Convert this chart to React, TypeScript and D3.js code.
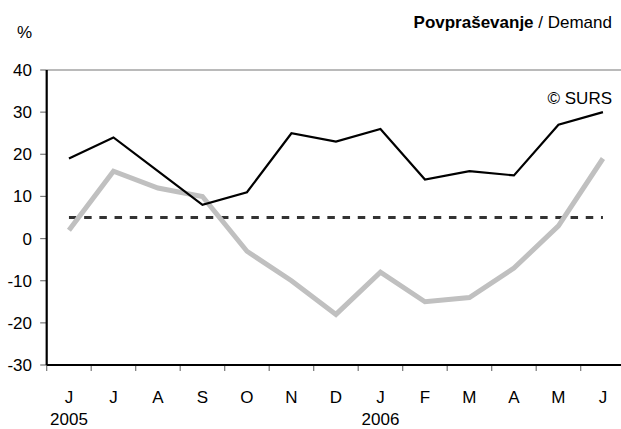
import * as d3 from 'd3';
import { useRef, useEffect } from 'react';

const months = ['J', 'J', 'A', 'S', 'O', 'N', 'D', 'J', 'F', 'M', 'A', 'M', 'J'];
const years = [{ index: 0, label: '2005' }, { index: 7, label: '2006' }];
const demandBlack = [19, 24, 16, 8, 11, 25, 23, 26, 14, 16, 15, 27, 30];
const demandGray = [2, 16, 12, 10, -3, -10, -18, -8, -15, -14, -7, 3, 19];
const referenceLevel = 5;
const yTicks = [-30, -20, -10, 0, 10, 20, 30, 40];

function App() {
    const svgRef = useRef<SVGSVGElement>(null);
    const width = 621;
    const height = 429;

    useEffect(() => {
        const svg = d3.select(svgRef.current);
        svg.selectAll('*').remove();

        const font = '"Liberation Sans", Arial, sans-serif';
        const left = 46.7;
        const top = 70;
        const bottom = 365;

        const xScale = d3.scaleBand<number>()
            .domain(months.map((_, i) => i))
            .range([left, left + 13 * 44.5]);
        const xMid = (i: number) => (xScale(i) as number) + xScale.bandwidth() / 2;

        const yScale = d3.scaleLinear()
            .domain([-30, 40])
            .range([bottom, top]);

        // Top frame line
        svg.append('line')
            .attr('x1', left).attr('x2', width)
            .attr('y1', yScale(40)).attr('y2', yScale(40))
            .attr('stroke', '#777').attr('stroke-width', 1.2);

        // Y ticks and labels
        svg.append('g')
            .selectAll('line')
            .data(yTicks)
            .enter()
            .append('line')
            .attr('x1', left - 6.5).attr('x2', left)
            .attr('y1', d => yScale(d)).attr('y2', d => yScale(d))
            .attr('stroke', '#777').attr('stroke-width', 1.2);

        svg.append('g')
            .selectAll('text')
            .data(yTicks)
            .enter()
            .append('text')
            .attr('x', 32)
            .attr('y', d => yScale(d) + 6)
            .attr('text-anchor', 'end')
            .attr('font-family', font)
            .attr('font-size', 17)
            .attr('fill', '#000')
            .text(d => d);

        // X ticks at category boundaries
        svg.append('g')
            .selectAll('line')
            .data(months.map((_, i) => i))
            .enter()
            .append('line')
            .attr('x1', d => xScale(d) as number).attr('x2', d => xScale(d) as number)
            .attr('y1', bottom).attr('y2', bottom + 6)
            .attr('stroke', '#777').attr('stroke-width', 1.2);

        svg.append('g')
            .selectAll('text')
            .data(months)
            .enter()
            .append('text')
            .attr('x', (_, i) => xMid(i))
            .attr('y', 403)
            .attr('text-anchor', 'middle')
            .attr('font-family', font)
            .attr('font-size', 17)
            .text(d => d);

        svg.append('g')
            .selectAll('text')
            .data(years)
            .enter()
            .append('text')
            .attr('x', d => xMid(d.index))
            .attr('y', 425)
            .attr('text-anchor', 'middle')
            .attr('font-family', font)
            .attr('font-size', 17)
            .text(d => d.label);

        // Axes lines
        svg.append('line')
            .attr('x1', left).attr('x2', width)
            .attr('y1', bottom).attr('y2', bottom)
            .attr('stroke', '#000').attr('stroke-width', 2.2);
        svg.append('line')
            .attr('x1', left).attr('x2', left)
            .attr('y1', top).attr('y2', bottom)
            .attr('stroke', '#000').attr('stroke-width', 2.2);

        // Reference dashed line
        svg.append('line')
            .attr('x1', xMid(0)).attr('x2', xMid(months.length - 1))
            .attr('y1', yScale(referenceLevel)).attr('y2', yScale(referenceLevel))
            .attr('stroke', '#333').attr('stroke-width', 3)
            .attr('stroke-dasharray', '7.5,7.7');

        const line = d3.line<number>()
            .x((_, i) => xMid(i))
            .y(d => yScale(d));

        svg.append('path')
            .datum(demandGray)
            .attr('d', line)
            .attr('fill', 'none')
            .attr('stroke', '#c0c0c0')
            .attr('stroke-width', 5);

        svg.append('path')
            .datum(demandBlack)
            .attr('d', line)
            .attr('fill', 'none')
            .attr('stroke', '#000')
            .attr('stroke-width', 2.2);

        // Texts
        svg.append('text')
            .attr('x', 32).attr('y', 38)
            .attr('text-anchor', 'end')
            .attr('font-family', font)
            .attr('font-size', 17)
            .text('%');

        const title = svg.append('text')
            .attr('x', 612).attr('y', 28)
            .attr('text-anchor', 'end')
            .attr('font-family', font)
            .attr('font-size', 17);
        title.append('tspan').attr('font-weight', 'bold').text('Povpraševanje');
        title.append('tspan').text(' / Demand');

        svg.append('text')
            .attr('x', 612).attr('y', 104)
            .attr('text-anchor', 'end')
            .attr('font-family', font)
            .attr('font-size', 17)
            .text('© SURS');
    }, []);

    return (
        <svg
            ref={svgRef}
            width={width}
            height={height}
            style={{ position: 'absolute', left: 0, top: 0, background: '#fff' }}
        ></svg>
    );
}

export default App;
